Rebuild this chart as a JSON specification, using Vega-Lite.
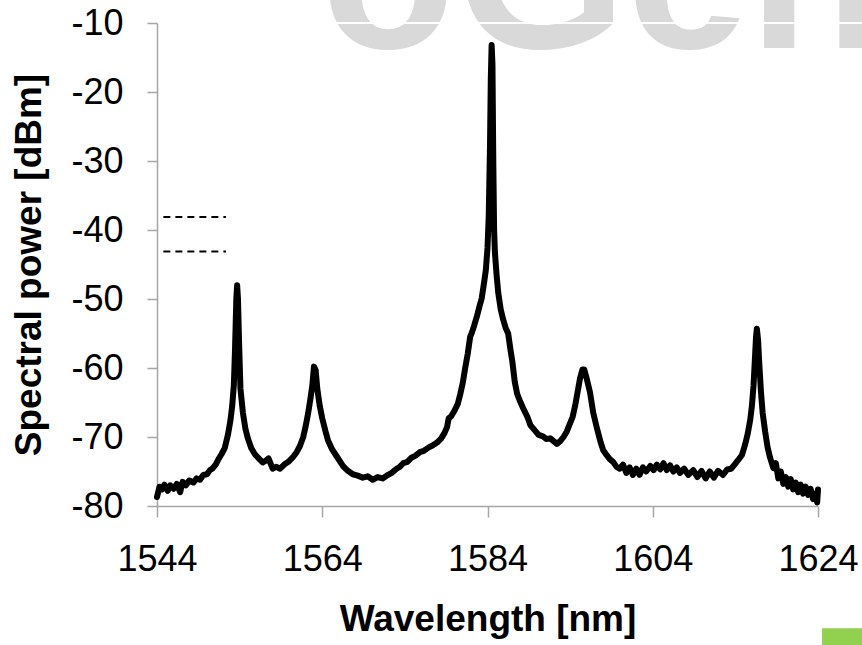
{
  "$schema": "https://vega.github.io/schema/vega-lite/v6.json",
  "width": 661,
  "height": 483,
  "autosize": {"type": "none"},
  "padding": {"left": 157, "top": 23, "right": 44, "bottom": 139},
  "background": "white",
  "config": {"view": {"stroke": null}, "font": "Liberation Sans"},
  "datasets": {
    "spectrum": [
      {"wl": 1544.0, "p": -78.7}, {"wl": 1544.3, "p": -77.2}, {"wl": 1544.6, "p": -77.6}, {"wl": 1544.9, "p": -76.9},
      {"wl": 1545.3, "p": -77.8}, {"wl": 1545.6, "p": -77.0}, {"wl": 1546.0, "p": -77.5}, {"wl": 1546.4, "p": -76.8},
      {"wl": 1546.8, "p": -78.0}, {"wl": 1547.1, "p": -76.5}, {"wl": 1547.5, "p": -77.0}, {"wl": 1547.9, "p": -76.3},
      {"wl": 1548.4, "p": -76.6}, {"wl": 1548.8, "p": -76.0}, {"wl": 1549.2, "p": -76.2}, {"wl": 1549.6, "p": -75.5},
      {"wl": 1550.05, "p": -75.4}, {"wl": 1550.4, "p": -74.8}, {"wl": 1550.7, "p": -74.6}, {"wl": 1551.1, "p": -74.0},
      {"wl": 1551.4, "p": -73.3}, {"wl": 1551.8, "p": -72.5}, {"wl": 1552.2, "p": -71.6}, {"wl": 1552.6, "p": -69.6},
      {"wl": 1552.9, "p": -67.5}, {"wl": 1553.1, "p": -65.5}, {"wl": 1553.3, "p": -62.5}, {"wl": 1553.45, "p": -57.0},
      {"wl": 1553.6, "p": -50.0}, {"wl": 1553.7, "p": -48.0}, {"wl": 1553.8, "p": -50.0}, {"wl": 1553.95, "p": -57.0},
      {"wl": 1554.1, "p": -63.0}, {"wl": 1554.4, "p": -66.5}, {"wl": 1554.7, "p": -68.8}, {"wl": 1555.0, "p": -70.2},
      {"wl": 1555.4, "p": -71.6}, {"wl": 1555.9, "p": -72.6}, {"wl": 1556.4, "p": -73.2}, {"wl": 1556.8, "p": -73.7},
      {"wl": 1557.2, "p": -73.4}, {"wl": 1557.5, "p": -73.1}, {"wl": 1557.8, "p": -74.0}, {"wl": 1558.0, "p": -74.6},
      {"wl": 1558.4, "p": -74.3}, {"wl": 1558.9, "p": -74.6}, {"wl": 1559.4, "p": -74.0}, {"wl": 1559.9, "p": -73.6},
      {"wl": 1560.4, "p": -73.0}, {"wl": 1560.9, "p": -72.2}, {"wl": 1561.3, "p": -71.3}, {"wl": 1561.7, "p": -70.0},
      {"wl": 1562.0, "p": -68.4}, {"wl": 1562.3, "p": -66.5}, {"wl": 1562.6, "p": -64.2}, {"wl": 1562.8, "p": -62.5},
      {"wl": 1563.0, "p": -59.8}, {"wl": 1563.2, "p": -60.3}, {"wl": 1563.4, "p": -63.0}, {"wl": 1563.7, "p": -65.5},
      {"wl": 1564.0, "p": -67.3}, {"wl": 1564.4, "p": -69.2}, {"wl": 1564.7, "p": -70.5}, {"wl": 1565.2, "p": -71.8},
      {"wl": 1565.8, "p": -72.9}, {"wl": 1566.5, "p": -74.2}, {"wl": 1567.1, "p": -74.9}, {"wl": 1567.7, "p": -75.4},
      {"wl": 1568.3, "p": -75.6}, {"wl": 1568.9, "p": -75.9}, {"wl": 1569.5, "p": -75.7}, {"wl": 1570.1, "p": -76.2},
      {"wl": 1570.7, "p": -75.8}, {"wl": 1571.3, "p": -76.0}, {"wl": 1571.8, "p": -75.6}, {"wl": 1572.4, "p": -75.2},
      {"wl": 1573.0, "p": -74.6}, {"wl": 1573.4, "p": -74.3}, {"wl": 1573.8, "p": -73.8}, {"wl": 1574.3, "p": -73.6},
      {"wl": 1574.8, "p": -73.0}, {"wl": 1575.3, "p": -72.7}, {"wl": 1575.8, "p": -72.2}, {"wl": 1576.3, "p": -72.0},
      {"wl": 1576.9, "p": -71.5}, {"wl": 1577.4, "p": -71.2}, {"wl": 1577.9, "p": -70.8}, {"wl": 1578.4, "p": -70.2},
      {"wl": 1578.8, "p": -69.4}, {"wl": 1579.1, "p": -68.6}, {"wl": 1579.3, "p": -67.3}, {"wl": 1579.6, "p": -67.0},
      {"wl": 1580.0, "p": -66.2}, {"wl": 1580.4, "p": -65.2}, {"wl": 1580.7, "p": -63.8}, {"wl": 1581.0, "p": -62.2},
      {"wl": 1581.3, "p": -60.0}, {"wl": 1581.6, "p": -58.0}, {"wl": 1581.9, "p": -55.5}, {"wl": 1582.1, "p": -54.9},
      {"wl": 1582.4, "p": -53.8}, {"wl": 1582.7, "p": -52.6}, {"wl": 1583.0, "p": -51.2}, {"wl": 1583.3, "p": -49.9},
      {"wl": 1583.6, "p": -47.5}, {"wl": 1583.8, "p": -45.8}, {"wl": 1584.0, "p": -42.6}, {"wl": 1584.15, "p": -38.0},
      {"wl": 1584.3, "p": -28.0}, {"wl": 1584.4, "p": -18.0}, {"wl": 1584.5, "p": -13.2}, {"wl": 1584.6, "p": -16.0},
      {"wl": 1584.7, "p": -30.0}, {"wl": 1584.8, "p": -40.0}, {"wl": 1584.9, "p": -43.3}, {"wl": 1585.1, "p": -46.5},
      {"wl": 1585.3, "p": -49.1}, {"wl": 1585.6, "p": -51.5}, {"wl": 1585.9, "p": -53.0}, {"wl": 1586.2, "p": -54.2},
      {"wl": 1586.5, "p": -55.0}, {"wl": 1586.8, "p": -57.5}, {"wl": 1587.0, "p": -59.0}, {"wl": 1587.3, "p": -62.0},
      {"wl": 1587.6, "p": -63.8}, {"wl": 1587.9, "p": -64.7}, {"wl": 1588.3, "p": -65.8}, {"wl": 1588.8, "p": -67.0},
      {"wl": 1589.2, "p": -68.3}, {"wl": 1589.7, "p": -69.0}, {"wl": 1590.2, "p": -69.7}, {"wl": 1590.7, "p": -69.9},
      {"wl": 1591.1, "p": -70.3}, {"wl": 1591.6, "p": -70.2}, {"wl": 1592.0, "p": -70.6}, {"wl": 1592.4, "p": -71.0},
      {"wl": 1592.8, "p": -70.6}, {"wl": 1593.2, "p": -70.0}, {"wl": 1593.6, "p": -69.2}, {"wl": 1594.0, "p": -68.0},
      {"wl": 1594.3, "p": -67.1}, {"wl": 1594.6, "p": -65.5}, {"wl": 1594.95, "p": -63.2}, {"wl": 1595.2, "p": -61.5},
      {"wl": 1595.5, "p": -60.2}, {"wl": 1595.7, "p": -60.2}, {"wl": 1596.0, "p": -61.5}, {"wl": 1596.4, "p": -63.5},
      {"wl": 1596.8, "p": -66.5}, {"wl": 1597.3, "p": -69.0}, {"wl": 1597.7, "p": -70.8}, {"wl": 1598.0, "p": -71.9},
      {"wl": 1598.4, "p": -72.6}, {"wl": 1598.8, "p": -73.2}, {"wl": 1599.2, "p": -73.6}, {"wl": 1599.6, "p": -74.3},
      {"wl": 1600.0, "p": -74.6}, {"wl": 1600.4, "p": -74.0}, {"wl": 1600.8, "p": -75.2}, {"wl": 1601.2, "p": -74.4},
      {"wl": 1601.6, "p": -75.5}, {"wl": 1602.0, "p": -74.6}, {"wl": 1602.4, "p": -75.5}, {"wl": 1602.8, "p": -74.4},
      {"wl": 1603.2, "p": -75.0}, {"wl": 1603.7, "p": -74.2}, {"wl": 1604.1, "p": -74.8}, {"wl": 1604.5, "p": -74.0},
      {"wl": 1604.9, "p": -74.7}, {"wl": 1605.3, "p": -73.8}, {"wl": 1605.7, "p": -74.8}, {"wl": 1606.1, "p": -74.1},
      {"wl": 1606.5, "p": -75.0}, {"wl": 1606.9, "p": -74.4}, {"wl": 1607.3, "p": -75.2}, {"wl": 1607.8, "p": -74.6},
      {"wl": 1608.3, "p": -75.5}, {"wl": 1608.9, "p": -74.8}, {"wl": 1609.4, "p": -75.8}, {"wl": 1609.9, "p": -74.9},
      {"wl": 1610.4, "p": -76.0}, {"wl": 1610.9, "p": -75.0}, {"wl": 1611.4, "p": -75.9}, {"wl": 1611.9, "p": -74.9},
      {"wl": 1612.5, "p": -75.5}, {"wl": 1613.0, "p": -74.7}, {"wl": 1613.5, "p": -74.6}, {"wl": 1613.9, "p": -74.0},
      {"wl": 1614.3, "p": -73.4}, {"wl": 1614.8, "p": -72.6}, {"wl": 1615.2, "p": -71.0}, {"wl": 1615.5, "p": -69.5},
      {"wl": 1615.8, "p": -67.5}, {"wl": 1616.0, "p": -65.5}, {"wl": 1616.2, "p": -62.5}, {"wl": 1616.35, "p": -59.0},
      {"wl": 1616.5, "p": -55.5}, {"wl": 1616.6, "p": -54.3}, {"wl": 1616.75, "p": -56.0}, {"wl": 1616.9, "p": -59.5},
      {"wl": 1617.1, "p": -63.5}, {"wl": 1617.3, "p": -66.5}, {"wl": 1617.6, "p": -69.2}, {"wl": 1617.9, "p": -71.5},
      {"wl": 1618.2, "p": -73.0}, {"wl": 1618.6, "p": -74.5}, {"wl": 1618.9, "p": -73.8}, {"wl": 1619.2, "p": -76.0},
      {"wl": 1619.5, "p": -75.0}, {"wl": 1619.8, "p": -76.8}, {"wl": 1620.1, "p": -75.8}, {"wl": 1620.4, "p": -77.2},
      {"wl": 1620.7, "p": -76.1}, {"wl": 1621.0, "p": -77.6}, {"wl": 1621.3, "p": -76.6}, {"wl": 1621.6, "p": -78.0},
      {"wl": 1621.9, "p": -76.9}, {"wl": 1622.2, "p": -78.2}, {"wl": 1622.5, "p": -77.2}, {"wl": 1622.8, "p": -78.4},
      {"wl": 1623.1, "p": -77.5}, {"wl": 1623.4, "p": -79.0}, {"wl": 1623.7, "p": -78.2}, {"wl": 1623.9, "p": -79.5},
      {"wl": 1624.0, "p": -77.6}
    ],
    "dashes": [
      {"wl1": 1544.77, "wl2": 1552.35, "p": -38.1},
      {"wl1": 1544.77, "wl2": 1552.35, "p": -43.1}
    ]
  },
  "layer": [
    {
      "data": {"values": [{}]},
      "mark": {"type": "text", "align": "left", "baseline": "alphabetic", "fontSize": 220, "fontWeight": "bold", "font": "Liberation Sans", "color": "#d9d9d9", "clip": false},
      "encoding": {
        "x": {"datum": 1563.85, "type": "quantitative", "scale": {"domain": [1544, 1624], "nice": false, "zero": false}},
        "y": {"datum": -13.6, "type": "quantitative", "scale": {"domain": [-80, -10], "nice": false, "zero": false}},
        "text": {"value": "oGen"}
      }
    },
    {
      "data": {"values": [{}]},
      "mark": {"type": "rule", "color": "white", "strokeWidth": 2, "clip": false},
      "encoding": {
        "x": {"datum": 1544.2, "type": "quantitative"},
        "x2": {"datum": 1630},
        "y": {"datum": -10, "type": "quantitative"}
      }
    },
    {
      "data": {"name": "spectrum"},
      "mark": {"type": "line", "color": "black", "strokeWidth": 6, "strokeJoin": "round", "strokeCap": "round"},
      "encoding": {
        "x": {
          "field": "wl", "type": "quantitative",
          "scale": {"domain": [1544, 1624], "nice": false, "zero": false},
          "axis": {
            "values": [1544, 1564, 1584, 1604, 1624],
            "labelExpr": "(datum.value < 0 ? '-' : '') + abs(datum.value)",
            "title": "Wavelength [nm]",
            "grid": false,
            "labelFont": "Liberation Sans", "labelFontSize": 36, "labelColor": "black",
            "labelPadding": 25, "labelFlush": false, "labelOverlap": false,
            "titleFont": "Liberation Sans", "titleFontSize": 37, "titleFontWeight": "bold", "titleColor": "black",
            "titlePadding": 24,
            "domainColor": "#a6a6a6", "domainWidth": 1.5,
            "tickColor": "#a6a6a6", "tickWidth": 1.5, "tickSize": 11
          }
        },
        "y": {
          "field": "p", "type": "quantitative",
          "scale": {"domain": [-80, -10], "nice": false, "zero": false},
          "axis": {
            "values": [-80, -70, -60, -50, -40, -30, -20, -10],
            "labelExpr": "(datum.value < 0 ? '-' : '') + abs(datum.value)",
            "title": "Spectral power [dBm]",
            "grid": false,
            "labelFont": "Liberation Sans", "labelFontSize": 36, "labelColor": "black",
            "labelPadding": 24, "labelOverlap": false, "labelFlush": false,
            "titleFont": "Liberation Sans", "titleFontSize": 37, "titleFontWeight": "bold", "titleColor": "black",
            "titlePadding": 22,
            "domainColor": "#a6a6a6", "domainWidth": 1.5,
            "tickColor": "#a6a6a6", "tickWidth": 1.5, "tickSize": 10
          }
        }
      }
    },
    {
      "data": {"name": "dashes"},
      "mark": {"type": "rule", "color": "black", "strokeWidth": 2, "strokeDash": [7, 5]},
      "encoding": {
        "x": {"field": "wl1", "type": "quantitative"},
        "x2": {"field": "wl2"},
        "y": {"field": "p", "type": "quantitative"}
      }
    },
    {
      "data": {"values": [{}]},
      "mark": {"type": "rect", "color": "#92d050", "clip": false},
      "encoding": {
        "x": {"datum": 1624.48, "type": "quantitative"},
        "x2": {"datum": 1630},
        "y": {"datum": -97.7, "type": "quantitative"},
        "y2": {"datum": -101}
      }
    }
  ]
}
